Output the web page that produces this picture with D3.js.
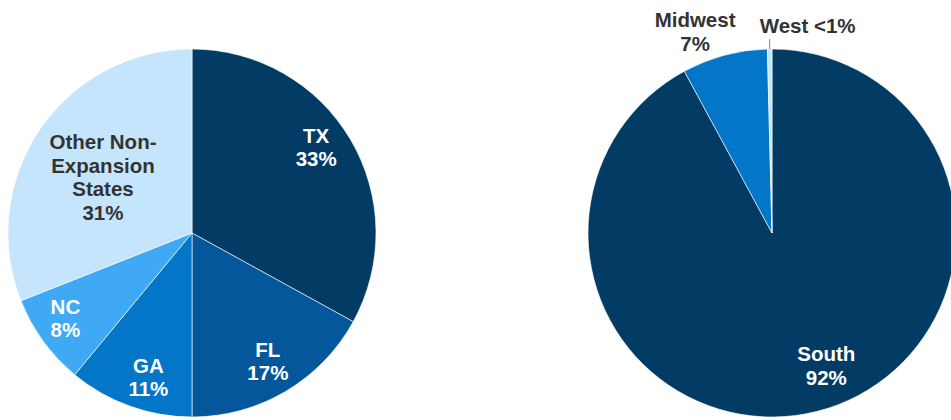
<!DOCTYPE html>
<html>
<head>
<meta charset="utf-8">
<script src="https://cdn.jsdelivr.net/npm/d3@7"></script>
<style>
  html, body { margin: 0; padding: 0; background: #ffffff; }
  svg text { font-family: "Liberation Sans", Arial, sans-serif; font-weight: bold; font-size: 20.5px; }
</style>
</head>
<body>
<svg id="chart" width="951" height="420"></svg>
<script>
// ---- Data ----
const leftCategories = ["TX", "FL", "GA", "NC", "Other Non-Expansion States"];
const leftValues = [33, 17, 11, 8, 31];
const leftLabelLines = [["TX", "33%"], ["FL", "17%"], ["GA", "11%"], ["NC", "8%"], ["Other Non-", "Expansion", "States", "31%"]];

const rightCategories = ["South", "Midwest", "West"];
const rightValues = [92.1, 7.5, 0.4];
const rightLabelLines = [["South", "92%"], ["Midwest", "7%"], ["West <1%"]];

// ---- Styles / layout ----
const leftColors = ["#023B64", "#03579A", "#0376C8", "#3FA9F5", "#C4E5FC"];
const leftTextColors = ["#fff", "#fff", "#fff", "#fff", "#333"];
const rightColors = ["#023B64", "#0376C8", "#C4E5FC"];
const rightTextColors = ["#fff", "#333", "#333"];
// label placement: [angle offset (deg), radius fraction]
const leftLabelPolar = [[-4, 0.82], [0, 0.81], [-3, 0.82], [2, 0.83], [-2.3, 0.57]];
const rightLabelPolar = [[-8, 0.78], [-6, 1.17], [10.5, 1.14]];

const R = 184;
const lineH = 23.5;
const svg = d3.select("#chart");

function drawPie(cx, cy, values, colors, textColors, lines, polar) {
  const g = svg.append("g").attr("transform", `translate(${cx},${cy})`);
  const pie = d3.pie().sort(null).value(d => d);
  const arcs = pie(values);
  const arc = d3.arc().innerRadius(0).outerRadius(R);
  g.selectAll("path").data(arcs).enter().append("path")
    .attr("d", arc)
    .attr("fill", (d, i) => colors[i])
    .attr("stroke", "#ffffff")
    .attr("stroke-width", 0.6);
  arcs.forEach((d, i) => {
    const mid = (d.startAngle + d.endAngle) / 2 + polar[i][0] * Math.PI / 180;
    const r = polar[i][1] * R;
    const x = r * Math.sin(mid);
    const y = -r * Math.cos(mid);
    const ls = lines[i];
    const t = g.append("text").attr("text-anchor", "middle").attr("fill", textColors[i]);
    ls.forEach((s, j) => {
      t.append("tspan").attr("x", x).attr("y", y + (j - (ls.length - 1) / 2) * lineH + 7).text(s);
    });
  });
  return { g, arcs };
}

drawPie(192, 233, leftValues, leftColors, leftTextColors, leftLabelLines, leftLabelPolar);
const right = drawPie(772, 233, rightValues, rightColors, rightTextColors, rightLabelLines, rightLabelPolar);

// leader line for the tiny West slice
const w = right.arcs[2];
const wMid = (w.startAngle + w.endAngle) / 2;
right.g.append("line")
  .attr("x1", R * Math.sin(wMid)).attr("y1", -R * Math.cos(wMid))
  .attr("x2", (R + 10) * Math.sin(wMid)).attr("y2", -(R + 10) * Math.cos(wMid))
  .attr("stroke", "#8a8a8a").attr("stroke-width", 1);
</script>
</body>
</html>
